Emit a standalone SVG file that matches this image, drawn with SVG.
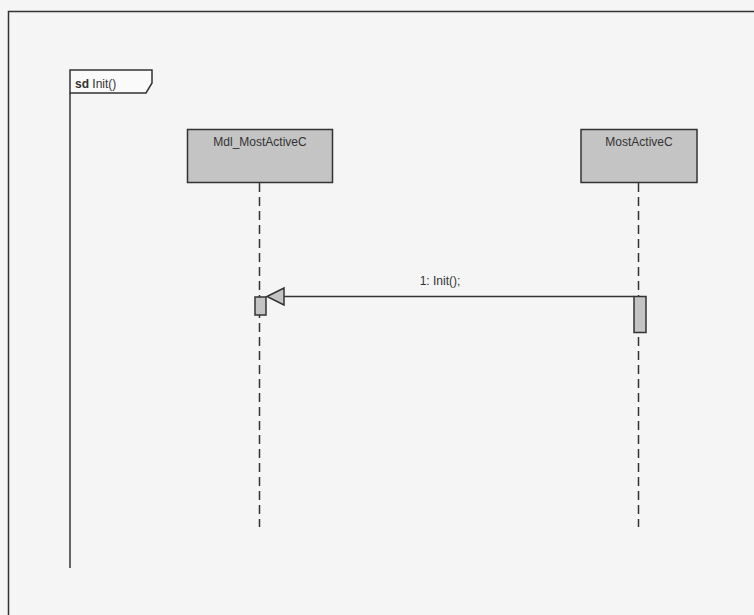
<svg xmlns="http://www.w3.org/2000/svg" width="754" height="615" viewBox="0 0 754 615">
<style>
.ln{stroke:#333;stroke-width:1.5;fill:none}
.box{fill:#c4c4c4;stroke:#333;stroke-width:1.5}
.life{stroke:#333;stroke-width:1.5;stroke-dasharray:9,5}
.t{font-family:"Liberation Sans",Arial,sans-serif;font-size:12px;fill:#333}
</style>
<rect x="0" y="0" width="754" height="615" fill="#f5f5f5"/>
<rect x="8.5" y="11.5" width="760" height="620" class="ln"/>
<g id="frame">
<path d="M70,70 H152 V83 L146,93 H70 Z" fill="#fafafa" stroke="#333" stroke-width="1.5"/>
<line x1="70" y1="93" x2="70" y2="568" class="ln"/>
<text x="75" y="88" class="t" font-size="13"><tspan font-weight="bold">sd</tspan> Init()</text>
</g>
<g id="mdl">
<rect x="187.5" y="129.5" width="145" height="53" class="box"/>
<text x="260" y="146" text-anchor="middle" class="t">Mdl_MostActiveC</text>
<line x1="259.5" y1="183" x2="259.5" y2="527" class="life"/>
<rect x="255" y="297" width="11" height="18" class="box" stroke-width="1.2"/>
</g>
<g id="mostactive">
<rect x="581" y="129.5" width="116" height="53" class="box"/>
<text x="639" y="146" text-anchor="middle" class="t">MostActiveC</text>
<line x1="638.5" y1="183" x2="638.5" y2="527" class="life"/>
<rect x="634" y="296.5" width="12" height="36" class="box" stroke-width="1.2"/>
</g>
<g id="connectors">
<line x1="283" y1="296.5" x2="634" y2="296.5" class="ln"/>
<path d="M267,296.5 L284,288 L284,305 Z" fill="#c4c4c4" stroke="#333" stroke-width="1.5"/>
<text x="440" y="285" text-anchor="middle" class="t">1: Init();</text>
</g>
</svg>
